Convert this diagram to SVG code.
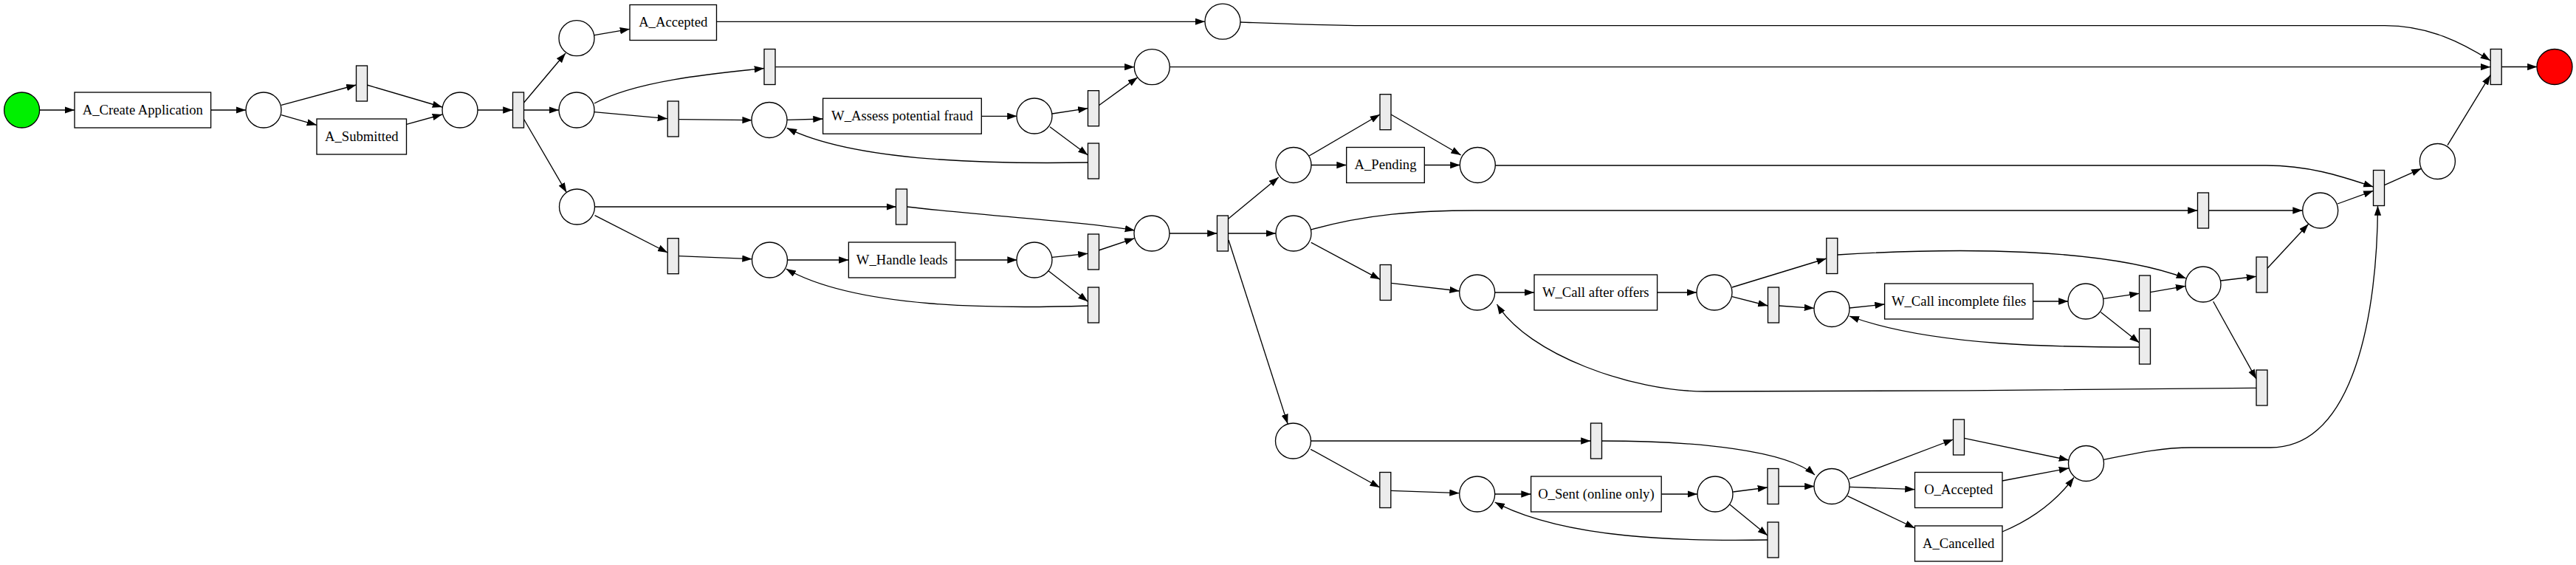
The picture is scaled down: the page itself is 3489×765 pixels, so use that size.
<svg xmlns="http://www.w3.org/2000/svg" width="3489" height="765" viewBox="0 0 3489 765">
<defs>
<style>
.p{fill:#fff;stroke:#000;stroke-width:1.33}
.t{fill:#ececec;stroke:#000;stroke-width:1.33}
.b{fill:#fff;stroke:#000;stroke-width:1.33}
.e path{fill:none;stroke:#000;stroke-width:1.33;marker-end:url(#a)}
text{font-family:"Liberation Serif","Times New Roman",serif;font-size:18.67px;text-anchor:middle;fill:#000}
</style>
<marker id="a" markerWidth="14" markerHeight="10" refX="13.3" refY="4.67" orient="auto" markerUnits="userSpaceOnUse"><path d="M0,0 L13.3,4.67 L0,9.33 z" fill="#000"/></marker>
</defs>
<rect width="3489" height="765" fill="#fff"/>
<g id="edges" class="e">
<path d="M53.6,149 L101,149"/>
<path d="M285.6,149 L333,149"/>
<path d="M381,142.3 L482.5,115"/>
<path d="M381,155.7 L429,169.3"/>
<path d="M497,115 L599,145"/>
<path d="M550.5,168.3 L599,155"/>
<path d="M646.6,149 L694.5,149"/>
<path d="M708.7,140 L766,72"/>
<path d="M709.5,149 L757,149"/>
<path d="M708.7,160 L767.4,260.7"/>
<path d="M805,47.7 L853,39.3"/>
<path d="M970.5,29.3 L1632,29.3"/>
<path d="M1680,30 C1760,33 1800,34.7 1863,34.7 L3230,34.7 C3290,34.7 3335,58 3373,82"/>
<path d="M805,140 C860,110 960,100 1035,92.5"/>
<path d="M805,151.7 L904,160.7"/>
<path d="M1050.3,90.7 L1536.4,90.7"/>
<path d="M919.4,161.7 L1018.7,162.7"/>
<path d="M1065.8,162.3 L1114.6,161"/>
<path d="M1329.3,157.3 L1377.5,157.3"/>
<path d="M1425,154 L1473.4,146.7"/>
<path d="M1422,171.7 L1473.4,210"/>
<path d="M1488.3,142.7 L1540.8,104.7"/>
<path d="M1473.4,220 C1350,222 1160,220 1065.8,173.3"/>
<path d="M805.6,280 L1213.8,280"/>
<path d="M805.6,291.7 L904.2,342"/>
<path d="M1228.5,280 C1350,294 1470,300 1537,312"/>
<path d="M919,346.7 L1018.6,350.7"/>
<path d="M1066.5,352 L1149.4,352"/>
<path d="M1294,352 L1377.7,352"/>
<path d="M1425,348.3 L1473.4,343.3"/>
<path d="M1420,366.7 L1473.4,408.3"/>
<path d="M1488,339 L1536.5,322.7"/>
<path d="M1473.4,414 C1350,418 1160,418 1064.6,364"/>
<path d="M1583.5,316 L1648.5,316"/>
<path d="M1663,296.7 L1731.8,240"/>
<path d="M1663,316 L1728,316"/>
<path d="M1664,325 L1744.2,574.1"/>
<path d="M1773.2,211 L1869,155"/>
<path d="M1776,223.5 L1823.7,223.5"/>
<path d="M1884,155 L1978.7,210"/>
<path d="M1929.3,223.5 L1977.5,223.5"/>
<path d="M2025.2,224 L3069,224 C3130,224 3175,240 3214.5,253"/>
<path d="M1775.5,311 C1850,290 1920,285 1998,285 L2976.5,285"/>
<path d="M1775.8,328.3 L1869.2,378.3"/>
<path d="M1884.2,383.3 L1976.7,394"/>
<path d="M2024.6,396 L2078,396"/>
<path d="M2244.6,396 L2298,396"/>
<path d="M2346,389 L2473.8,350"/>
<path d="M2346,401.7 L2394.5,414"/>
<path d="M2488.8,345 C2650,335 2850,335 2961,377"/>
<path d="M2409.5,414 L2457,417.3"/>
<path d="M2505,417 L2552.6,412"/>
<path d="M2753.6,408 L2801.4,408"/>
<path d="M2849.2,404.3 L2897.5,397.3"/>
<path d="M2845.4,422.7 L2897.5,464"/>
<path d="M2912.5,395.7 L2960.2,387.3"/>
<path d="M2897.5,470 C2800,470 2620,470 2504.8,428"/>
<path d="M3008,380 L3056,374.3"/>
<path d="M2997.7,408.3 L3056,513.3"/>
<path d="M3071,363.3 L3126.7,303.3"/>
<path d="M3056,525.3 C2900,528 2500,530 2310,530 C2210,530 2070,480 2027.5,412"/>
<path d="M2991.5,285 L3118.6,285"/>
<path d="M3166,276 L3214.5,258.3"/>
<path d="M3229.5,250.7 L3279.4,228.3"/>
<path d="M3315,196.7 L3373,101.7"/>
<path d="M1584.2,90.7 L3373.2,90.7"/>
<path d="M3388.2,90.5 L3436.4,90.5"/>
<path d="M2849.2,622.3 C2900,612 2930,606 2968,606 L3075,606 C3190,606 3220,420 3220.5,278.5"/>
<path d="M1775.2,597 L2154.5,597"/>
<path d="M1775.2,608.3 L1868.8,660"/>
<path d="M2169.5,597 C2300,597 2420,610 2458,643"/>
<path d="M1883.8,664.3 L1976.6,667.7"/>
<path d="M2024.7,669 L2073.6,669"/>
<path d="M2250.2,669 L2299,669"/>
<path d="M2347.3,666 L2394,660"/>
<path d="M2343,683.3 L2394,725"/>
<path d="M2409,658.5 L2457.5,658.5"/>
<path d="M2394,731 C2280,733 2120,730 2024.7,680"/>
<path d="M2504.8,648.3 L2645.5,595"/>
<path d="M2504.8,659.3 L2593.5,662.7"/>
<path d="M2502.4,671.7 L2593.5,715"/>
<path d="M2660.5,593.3 L2802,623"/>
<path d="M2712,651 L2802,634"/>
<path d="M2712,720 C2760,700 2790,672 2809,646.5"/>
</g>
<g id="p_start"><circle class="p" cx="29.6" cy="149" r="24" style="fill:#00f000"/></g>
<g id="n_create"><rect class="b" x="101" y="125" width="184.6" height="48"/><text x="193.3" y="154.5">A_Create Application</text></g>
<g id="p1"><circle class="p" cx="357" cy="149" r="24"/></g>
<g id="t1"><rect class="t" x="482.5" y="89" width="15" height="48"/></g>
<g id="n_submitted"><rect class="b" x="429" y="161" width="121.5" height="48"/><text x="489.75" y="190.5">A_Submitted</text></g>
<g id="p2"><circle class="p" cx="623" cy="149" r="24"/></g>
<g id="t2"><rect class="t" x="694.5" y="125" width="15" height="48"/></g>
<g id="pA"><circle class="p" cx="781" cy="51.7" r="24"/></g>
<g id="pB"><circle class="p" cx="781" cy="149" r="24"/></g>
<g id="pF"><circle class="p" cx="781.5" cy="280" r="24"/></g>
<g id="n_accepted"><rect class="b" x="853" y="6.5" width="117.5" height="48"/><text x="911.75" y="36">A_Accepted</text></g>
<g id="pA2"><circle class="p" cx="1656" cy="29.2" r="24"/></g>
<g id="t3"><rect class="t" x="1035" y="66.5" width="15" height="48"/></g>
<g id="t4"><rect class="t" x="904.2" y="137" width="15" height="48"/></g>
<g id="pC"><circle class="p" cx="1560.3" cy="90.7" r="24"/></g>
<g id="pD"><circle class="p" cx="1042" cy="162.5" r="24"/></g>
<g id="n_assess"><rect class="b" x="1114.6" y="133.2" width="214.7" height="48"/><text x="1221.95" y="162.7">W_Assess potential fraud</text></g>
<g id="pE"><circle class="p" cx="1401" cy="157" r="24"/></g>
<g id="t5"><rect class="t" x="1473.5" y="122.7" width="15" height="48"/></g>
<g id="t6"><rect class="t" x="1473.5" y="194" width="15" height="48"/></g>
<g id="t7"><rect class="t" x="1213.5" y="256" width="15" height="48"/></g>
<g id="t8"><rect class="t" x="904.2" y="322.7" width="15" height="48"/></g>
<g id="pG"><circle class="p" cx="1042.5" cy="352" r="24"/></g>
<g id="n_leads"><rect class="b" x="1149.4" y="328" width="144.6" height="48"/><text x="1221.7" y="357.5">W_Handle leads</text></g>
<g id="pH"><circle class="p" cx="1401" cy="352" r="24"/></g>
<g id="t9"><rect class="t" x="1473.5" y="317" width="15" height="48"/></g>
<g id="t10"><rect class="t" x="1473.5" y="389" width="15" height="48"/></g>
<g id="pI"><circle class="p" cx="1560" cy="316" r="24"/></g>
<g id="t11"><rect class="t" x="1648.5" y="292" width="15" height="48"/></g>
<g id="pJ"><circle class="p" cx="1752" cy="223.5" r="24"/></g>
<g id="t12"><rect class="t" x="1869" y="127.7" width="15" height="48"/></g>
<g id="n_pending"><rect class="b" x="1823.7" y="199.5" width="105.6" height="48"/><text x="1876.5" y="229">A_Pending</text></g>
<g id="pK"><circle class="p" cx="2001.3" cy="223.5" r="24"/></g>
<g id="pL"><circle class="p" cx="1752" cy="316" r="24"/></g>
<g id="t13"><rect class="t" x="1869.2" y="358.5" width="15" height="48"/></g>
<g id="pM"><circle class="p" cx="2000.7" cy="396" r="24"/></g>
<g id="n_callafter"><rect class="b" x="2078" y="372" width="166.6" height="48"/><text x="2161.3" y="401.5">W_Call after offers</text></g>
<g id="pN"><circle class="p" cx="2322" cy="396" r="24"/></g>
<g id="t14"><rect class="t" x="2473.8" y="322.5" width="15" height="48"/></g>
<g id="t15"><rect class="t" x="2394.5" y="389" width="15" height="48"/></g>
<g id="pO"><circle class="p" cx="2481" cy="418.5" r="24"/></g>
<g id="n_callinc"><rect class="b" x="2552.6" y="384" width="201" height="48"/><text x="2653.1" y="413.5">W_Call incomplete files</text></g>
<g id="pP"><circle class="p" cx="2825" cy="408" r="24"/></g>
<g id="t16"><rect class="t" x="2897.5" y="373" width="15" height="48"/></g>
<g id="t17"><rect class="t" x="2897.5" y="445" width="15" height="48"/></g>
<g id="pQ"><circle class="p" cx="2984" cy="385" r="24"/></g>
<g id="t18"><rect class="t" x="3056" y="348" width="15" height="48"/></g>
<g id="t19"><rect class="t" x="3056" y="501" width="15" height="48"/></g>
<g id="tH"><rect class="t" x="2976.5" y="261" width="15" height="48"/></g>
<g id="pR"><circle class="p" cx="3142.7" cy="285" r="24"/></g>
<g id="tG"><rect class="t" x="3214.5" y="230.5" width="15" height="48"/></g>
<g id="pX"><circle class="p" cx="3301.4" cy="218.5" r="24"/></g>
<g id="tF"><rect class="t" x="3373.2" y="66.5" width="15" height="48"/></g>
<g id="p_end"><circle class="p" cx="3460" cy="90.5" r="24" style="fill:#ff0000"/></g>
<g id="pS"><circle class="p" cx="1751.5" cy="597" r="24"/></g>
<g id="t20"><rect class="t" x="2154.5" y="573" width="15" height="48"/></g>
<g id="t21"><rect class="t" x="1868.8" y="639.5" width="15" height="48"/></g>
<g id="pT"><circle class="p" cx="2000.7" cy="669" r="24"/></g>
<g id="n_osent"><rect class="b" x="2073.6" y="645" width="176.6" height="48"/><text x="2161.9" y="674.5">O_Sent (online only)</text></g>
<g id="pU"><circle class="p" cx="2323" cy="669" r="24"/></g>
<g id="t22"><rect class="t" x="2394" y="634.5" width="15" height="48"/></g>
<g id="t23"><rect class="t" x="2394" y="707" width="15" height="48"/></g>
<g id="pV"><circle class="p" cx="2481" cy="658.5" r="24"/></g>
<g id="t24"><rect class="t" x="2645.5" y="568" width="15" height="48"/></g>
<g id="n_oaccepted"><rect class="b" x="2593.5" y="639.5" width="118.5" height="48"/><text x="2652.75" y="669">O_Accepted</text></g>
<g id="n_cancelled"><rect class="b" x="2593.5" y="712" width="118.5" height="48"/><text x="2652.75" y="741.5">A_Cancelled</text></g>
<g id="pW"><circle class="p" cx="2825.5" cy="627.5" r="24"/></g>
</svg>
